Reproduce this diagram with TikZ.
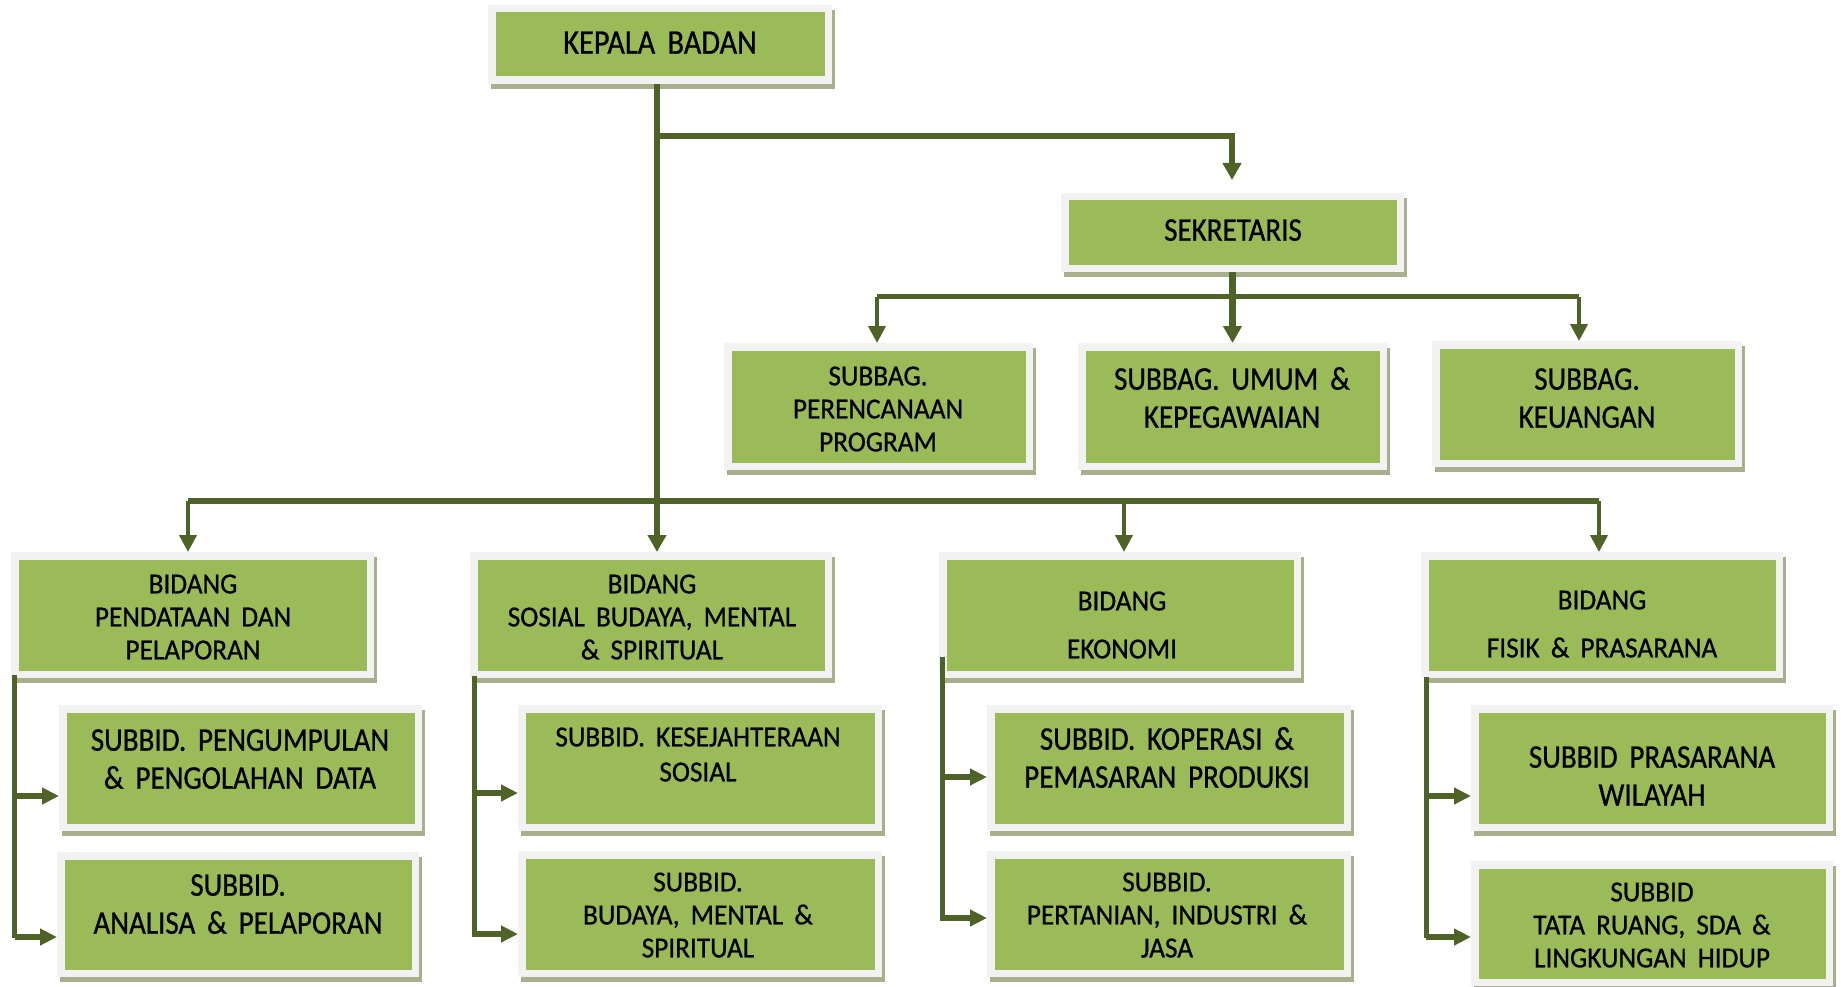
\documentclass[tikz,border=0pt]{standalone}
\usepackage{fontspec}
\setmainfont[FakeStretch=0.88,WordSpace=1.8,FakeBold=0.8]{Carlito}
\newfontfamily\smallfam[FakeStretch=0.94,WordSpace=1.8,FakeBold=0.8]{Carlito}
\usetikzlibrary{arrows.meta}
\definecolor{boxgreen}{HTML}{9BBB59}
\definecolor{boxframe}{HTML}{F2F2F2}
\definecolor{boxshadow}{HTML}{A7AF8D}
\definecolor{linecol}{HTML}{4F6228}
\tikzset{
  orgbox/.style={draw=boxframe, fill=boxgreen, line width=7.5pt, inner sep=0pt,
    preaction={draw=boxshadow, fill=boxshadow, line width=7.5pt,
      transform canvas={xshift=3pt,yshift=-5pt}}},
  toptxt/.style={font=\fontsize{34.5}{40}\selectfont, align=center, anchor=north, text height=22pt, inner sep=0pt},
  bigtxt/.style={font=\fontsize{33}{38}\selectfont, align=center, anchor=north, text height=21pt, inner sep=0pt},
  smalltxt/.style={font=\smallfam\fontsize{29}{33}\selectfont, align=center, anchor=north, text height=18.3pt, inner sep=0pt},
  trunk/.style={draw=linecol, line width=6.5pt},
  trunkarrow/.style={trunk, -{Triangle[length=17pt,width=18pt]}},
  hline/.style={draw=linecol, line width=5.5pt},
  droparrow/.style={draw=linecol, line width=4pt, -{Triangle[length=17pt,width=17pt]}},
  sideline/.style={draw=linecol, line width=5pt},
  sidearrow/.style={draw=linecol, line width=6pt, -{Triangle[length=17pt,width=16pt]}},
}
\newcommand\obox[5]{\node[orgbox, minimum width={#4-#2-7.5}, minimum height={#5-#3-7.5}] (#1) at ({(#2+#4)/2},{(#3+#5)/2}) {};}
\begin{document}
\begin{tikzpicture}[x=1pt,y=-1pt]
\useasboundingbox (0,0) rectangle (1841,987);
% boxes
\obox{kb}{488}{5}{832}{84}
\obox{sek}{1061}{193}{1404}{272}
\obox{sb1}{724}{343}{1033}{470}
\obox{sb2}{1078}{343}{1387}{470}
\obox{sb3}{1432}{341}{1742}{467}
\obox{bd1}{11}{552}{374}{678}
\obox{bd2}{470}{552}{832}{678}
\obox{bd3}{939}{552}{1301}{678}
\obox{bd4}{1421}{552}{1783}{678}
\obox{s11}{59}{705}{422}{831}
\obox{s12}{57}{852}{419}{977}
\obox{s21}{518}{705}{882}{831}
\obox{s22}{518}{851}{882}{977}
\obox{s31}{987}{705}{1351}{831}
\obox{s32}{987}{851}{1351}{977}
\obox{s41}{1471}{705}{1833}{831}
\obox{s42}{1471}{861}{1833}{986}
% texts (anchored at the top of the last line's capitals)
\node[toptxt] (tkb) at (660,31.5) {KEPALA BADAN};
\node[bigtxt] (tsek) at (1233,219.5) {SEKRETARIS};
\node[smalltxt] (tsb1) at (878,432.85) {SUBBAG.\\PERENCANAAN\\PROGRAM};
\node[bigtxt] (tsb2) at (1232,406.5) {SUBBAG. UMUM \&\\KEPEGAWAIAN};
\node[bigtxt] (tsb3) at (1587,406.5) {SUBBAG.\\KEUANGAN};
\node[smalltxt] (tbd1) at (193,640.85) {BIDANG\\PENDATAAN DAN\\PELAPORAN};
\node[smalltxt] (tbd2) at (652,640.85) {BIDANG\\SOSIAL BUDAYA, MENTAL\\\& SPIRITUAL};
\node[smalltxt] (tbd3) at (1122,639.85) {BIDANG\\[15pt]EKONOMI};
\node[smalltxt] (tbd4) at (1602,638.85) {BIDANG\\[15pt]FISIK \& PRASARANA};
\node[bigtxt] (ts11) at (240,767.5) {SUBBID. PENGUMPULAN\\\& PENGOLAHAN DATA};
\node[bigtxt] (ts12) at (238,912.5) {SUBBID.\\ANALISA \& PELAPORAN};
\node[smalltxt, font=\smallfam\fontsize{29}{35}\selectfont] (ts21) at (698,762.85) {SUBBID. KESEJAHTERAAN\\SOSIAL};
\node[smalltxt] (ts22) at (698,938.85) {SUBBID.\\BUDAYA, MENTAL \&\\SPIRITUAL};
\node[bigtxt] (ts31) at (1167,766.5) {SUBBID. KOPERASI \&\\PEMASARAN PRODUKSI};
\node[smalltxt] (ts32) at (1167,938.85) {SUBBID.\\PERTANIAN, INDUSTRI \&\\JASA};
\node[bigtxt] (ts41) at (1652,784.5) {SUBBID PRASARANA\\WILAYAH};
\node[smalltxt] (ts42) at (1652,948.85) {SUBBID\\TATA RUANG, SDA \&\\LINGKUNGAN HIDUP};
% junction coordinates
\coordinate (tk) at (657,0);
\coordinate (j1) at (657,136);
\coordinate (sekin) at (1232,180);
\coordinate (h1) at (877,296.5);
\coordinate (h2) at (1579,296.5);
\coordinate (b1) at (188,501);
\coordinate (b3) at (1124,501);
\coordinate (b4) at (1599,501);
% connectors
\draw[trunkarrow] (kb.south -| tk) -- (bd2.north -| tk);
\draw[trunkarrow] (j1) -| (sekin);
\draw[trunkarrow] (sek.south) -- (sb2.north);
\draw[hline] (h1) -- (h2);
\draw[droparrow] (h1) -- (h1 |- sb1.north);
\draw[droparrow] (h2) -- (h2 |- sb3.north);
\draw[trunk] (b1) -- (b4);
\draw[droparrow] (b1) -- (b1 |- bd1.north);
\draw[droparrow] (b3) -- (b3 |- bd3.north);
\draw[droparrow] (b4) -- (b4 |- bd4.north);
% side connectors
\coordinate (c1t) at (14.5,675); \coordinate (c1b) at (14.5,938);
\coordinate (c1a) at (14.5,796); \coordinate (c1c) at (14.5,937);
\draw[sideline] (c1t) -- (c1b);
\draw[sidearrow] (c1a) -- (c1a -| s11.west);
\draw[sidearrow] (c1c) -- (c1c -| s12.west);
\coordinate (c2t) at (474,676); \coordinate (c2b) at (474,937);
\coordinate (c2a) at (474,793); \coordinate (c2c) at (474,934);
\draw[sideline] (c2t) -- (c2b);
\draw[sidearrow] (c2a) -- (c2a -| s21.west);
\draw[sidearrow] (c2c) -- (c2c -| s22.west);
\coordinate (c3t) at (942,657); \coordinate (c3b) at (942,921);
\coordinate (c3a) at (942,777); \coordinate (c3c) at (942,918);
\draw[sideline] (c3t) -- (c3b);
\draw[sidearrow] (c3a) -- (c3a -| s31.west);
\draw[sidearrow] (c3c) -- (c3c -| s32.west);
\coordinate (c4t) at (1426,677); \coordinate (c4b) at (1426,938);
\coordinate (c4a) at (1426,796); \coordinate (c4c) at (1426,937);
\draw[sideline] (c4t) -- (c4b);
\draw[sidearrow] (c4a) -- (c4a -| s41.west);
\draw[sidearrow] (c4c) -- (c4c -| s42.west);
\end{tikzpicture}
\end{document}
